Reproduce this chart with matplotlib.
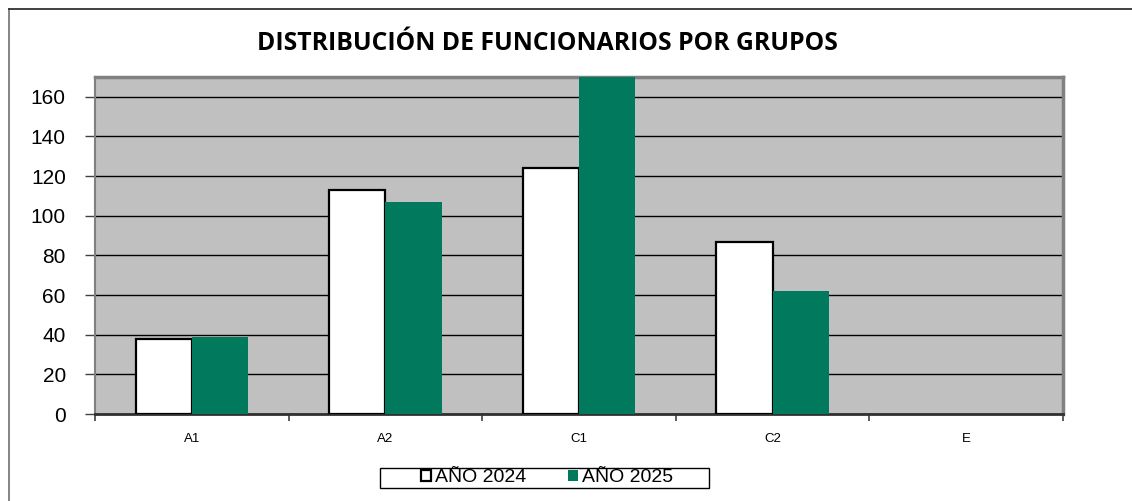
import matplotlib
matplotlib.use("Agg")
import matplotlib.pyplot as plt
from matplotlib.patches import Patch, Rectangle
from matplotlib.lines import Line2D
import numpy as np

categories = ["A1", "A2", "C1", "C2", "E"]
series_names = ["AÑO 2024", "AÑO 2025"]
values_2024 = [38, 113, 124, 87, 0]
values_2025 = [39, 107, 172, 62, 0]
y_ticks = [0, 20, 40, 60, 80, 100, 120, 140, 160]
title = "DISTRIBUCIÓN DE FUNCIONARIOS POR GRUPOS"

GREEN = "#00795D"

fig = plt.figure(figsize=(11.32, 5.01), dpi=100)
W, H = 1132, 501
ax = fig.add_axes([95 / W, 1 - 414 / H, (1063 - 95) / W, (414 - 77) / H])
ax.set_facecolor("#C0C0C0")

x = np.arange(len(categories))
bw = 0.29
ax.bar(x - bw / 2, values_2024, width=bw, color="white", edgecolor="black",
       linewidth=[1.6 if v > 0 else 0 for v in values_2024], zorder=3)
ax.bar(x + bw / 2, values_2025, width=bw, color=GREEN, edgecolor="none",
       linewidth=0, zorder=4)

ax.set_xlim(-0.5, len(categories) - 0.5)
ax.set_ylim(0, 170)
ax.set_yticks(y_ticks)
ax.set_yticklabels([str(v) for v in y_ticks], fontsize=15, family="Liberation Sans")
ax.set_xticks(x)
ax.set_xticklabels(categories, fontsize=9.5, family="Liberation Sans")
ax.set_xticks(np.arange(-0.5, len(categories)), minor=True)
ax.tick_params(axis="x", which="major", length=0, pad=14)
ax.tick_params(axis="x", which="minor", length=5, width=1.2, color="#404040", direction="out")
ax.tick_params(axis="y", which="major", length=7, width=1.0, color="#404040", pad=14)

ax.yaxis.grid(True, color="black", linewidth=1.0, zorder=1)
ax.set_axisbelow(True)

for side in ["top", "right"]:
    ax.spines[side].set_color("#808080")
    ax.spines[side].set_linewidth(2.5)
ax.spines["left"].set_color("#808080")
ax.spines["left"].set_linewidth(1.5)
ax.spines["bottom"].set_color("#303030")
ax.spines["bottom"].set_linewidth(2.0)

fig.text(547 / W, 1 - 44 / H, title, ha="center", va="center",
         fontsize=17.8, fontweight="bold", family="Open Sans")

# outer chart frame (left and top edges visible)
fig.add_artist(Line2D([9 / W, 9 / W], [0, 1 - 9 / H], color="#707070", linewidth=1.2,
                      transform=fig.transFigure))
fig.add_artist(Line2D([9 / W, 1], [1 - 9 / H, 1 - 9 / H], color="#202020", linewidth=1.2,
                      transform=fig.transFigure))

# legend box
fig.add_artist(Rectangle((380 / W, 1 - 488 / H), (709 - 380) / W, 20 / H,
                         transform=fig.transFigure, facecolor="white",
                         edgecolor="black", linewidth=1.0, zorder=5))
handles = [Patch(facecolor="white", edgecolor="black", linewidth=1.6),
           Patch(facecolor=GREEN, edgecolor="none")]
leg = fig.legend(handles, series_names, loc="center", bbox_to_anchor=(547 / W, 1 - 478 / H),
                 ncol=2, frameon=False,
                 prop={"family": "Liberation Sans", "size": 14},
                 handlelength=0.52, handleheight=0.52, handletextpad=0.2,
                 columnspacing=2.15, borderpad=0, borderaxespad=0)
leg.set_zorder(6)

fig.savefig("out.png", dpi=100)
